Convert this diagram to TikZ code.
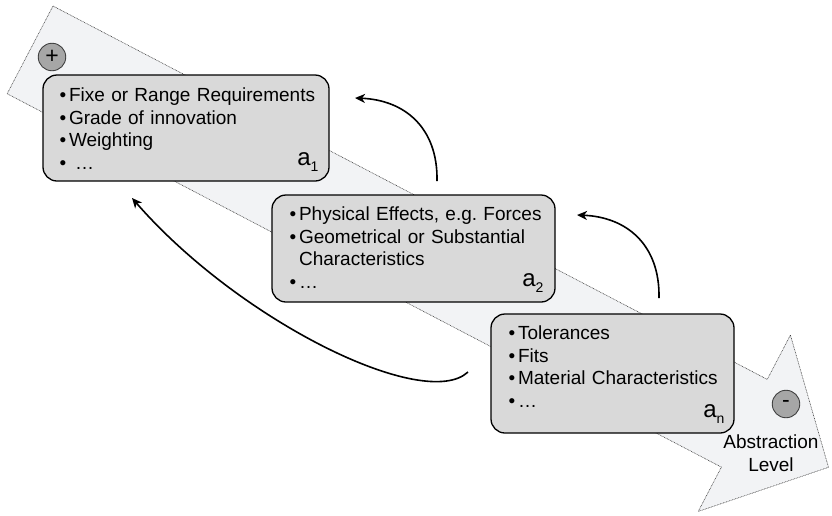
\documentclass[tikz,border=0pt]{standalone}
\usepackage{fontspec}
\setmainfont{Liberation Sans}
\usetikzlibrary{arrows.meta}
\frenchspacing

\definecolor{shaftfill}{HTML}{F2F3F5}
\definecolor{shaftedge}{HTML}{404040}
\definecolor{boxfill}{HTML}{D9D9D9}
\definecolor{dotfill}{HTML}{A6A6A6}
\definecolor{dotedge}{HTML}{404040}

% bullet of fixed width, used at the start of every list line
\newcommand{\itembul}{\makebox[9.5pt][l]{•}}
% lowered index of a level label
\newcommand{\lowsub}[1]{\raisebox{-5.5pt}{\fontsize{14}{14}\selectfont #1}}

\tikzset{
  shaft/.style={fill=shaftfill, draw=shaftedge, line width=0.6pt,
    dash pattern=on 0.8pt off 0.8pt},
  levelbox/.style={draw=black, line width=1.3pt, fill=boxfill,
    rounded corners=14pt, inner sep=0pt},
  boxtext/.style={anchor=base west, inner sep=0pt, text width=280pt,
    align=left, font=\fontsize{19}{22.8}\selectfont},
  idx/.style={anchor=base east, inner sep=0pt,
    font=\fontsize{24}{24}\selectfont},
  lvldot/.style={circle, draw=dotedge, line width=0.9pt, fill=dotfill,
    minimum size=27.5pt, inner sep=0pt, font=\fontsize{23}{23}\selectfont},
  loop/.style={line width=1.6pt,
    -{Stealth[length=10pt,width=9pt,inset=3pt]}},
}

\begin{document}
\begin{tikzpicture}[x=1pt, y=-1pt]
\useasboundingbox (0,0) rectangle (832,515);

% abstraction arrow
\begin{scope}[shift={(53,6)}, rotate=-27.6]
  \draw[shaft] (0,0) -- (806,0) -- (806,-50) -- (901,49.5)
    -- (806,149) -- (806,99) -- (0,99) -- cycle;
\end{scope}

% level boxes
\node[levelbox, minimum width=286pt, minimum height=106pt] (b1) at (186,128) {};
\node[levelbox, minimum width=283pt, minimum height=107pt] (b2) at (413.5,248.5) {};
\node[levelbox, minimum width=243pt, minimum height=119pt] (b3) at (612.5,373.5) {};

\node[boxtext] (t1) at ([xshift=17pt,yshift=-27pt]b1.north west)
  {\itembul Fixe or Range Requirements\\
   \itembul Grade of innovation\\
   \itembul Weighting\\
   \itembul\hspace{6pt}…};
\node[boxtext] (t2) at ([xshift=18pt,yshift=-26pt]b2.north west)
  {\itembul Physical Effects, e.g. Forces\\
   \itembul Geometrical or Substantial\\
   \hspace*{9.5pt}Characteristics\\
   \itembul …};
\node[boxtext] (t3) at ([xshift=18pt,yshift=-26pt]b3.north west)
  {\itembul Tolerances\\
   \itembul Fits\\
   \itembul Material Characteristics\\
   \itembul …};

\node[idx] (i1) at ([xshift=-11pt,yshift=16pt]b1.south east) {a\lowsub{1}};
\node[idx] (i2) at ([xshift=-12pt,yshift=16pt]b2.south east) {a\lowsub{2}};
\node[idx] (i3) at ([xshift=-10pt,yshift=16pt]b3.south east) {a\lowsub{n}};

% ends of the abstraction scale
\node[lvldot] (plus) at (52,57) {+};
\node[lvldot] (minus) at (786,404) {-};
\node[anchor=base, inner sep=0pt, text width=120pt, align=center,
  font=\fontsize{19}{23.5}\selectfont] (lvl) at (771,448) {Abstraction\\Level};

% feedback loops
\coordinate (s1) at (437,181);
\coordinate (e1) at (355,98);
\coordinate (s2) at (659,298);
\coordinate (e2) at (577,215);
\coordinate (s3) at (468,372);
\coordinate (e3) at (132,198);
\draw[loop] (s1) .. controls (438,128) and (405,100) .. (e1);
\draw[loop] (s2) .. controls (660,245) and (627,217) .. (e2);
\draw[loop] (s3) .. controls (425,412) and (240,322) .. (e3);
\end{tikzpicture}
\end{document}
